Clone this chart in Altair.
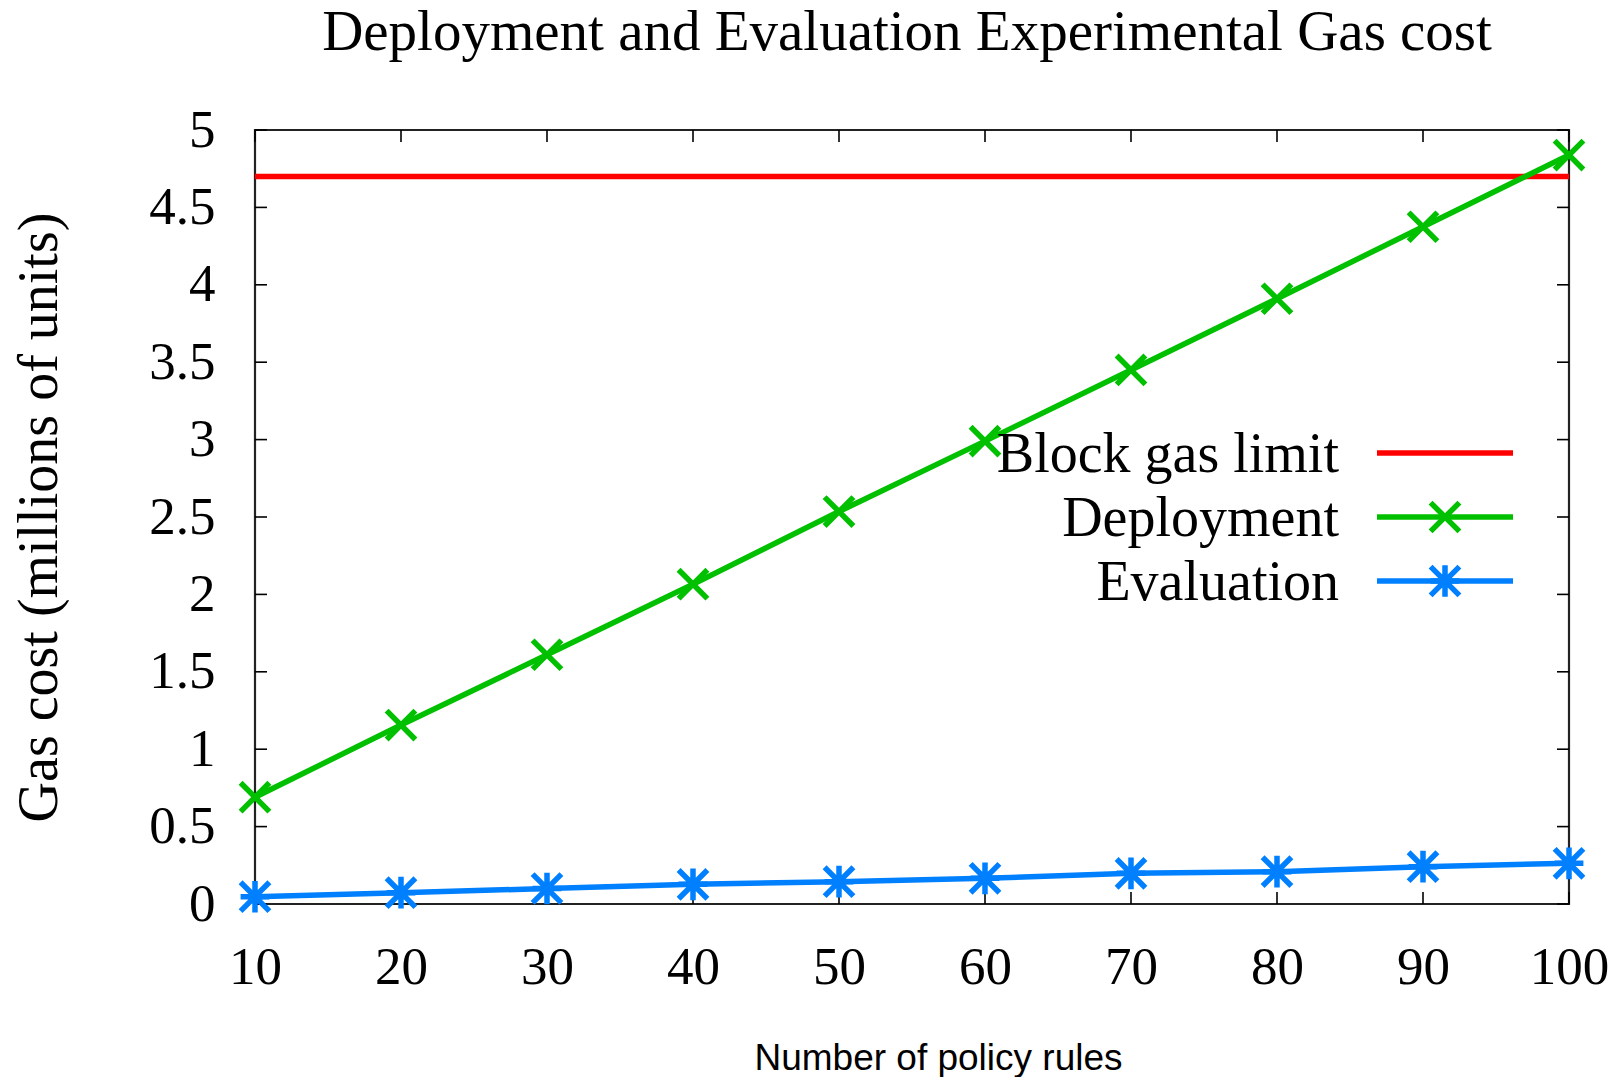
import altair as alt
import pandas as pd

# ---- data ----
rules = [10, 20, 30, 40, 50, 60, 70, 80, 90, 100]
deployment = [0.69, 1.156, 1.61, 2.066, 2.535, 2.99, 3.45, 3.91, 4.375, 4.838]
evaluation = [0.047, 0.073, 0.10, 0.127, 0.144, 0.166, 0.198, 0.209, 0.241, 0.263]
block_gas_limit = 4.7

series_names = ["Block gas limit", "Deployment", "Evaluation"]
series_colors = ["#ff0000", "#00c000", "#0080ff"]

x_tick_values = [10, 20, 30, 40, 50, 60, 70, 80, 90, 100]
y_tick_values = [0, 0.5, 1, 1.5, 2, 2.5, 3, 3.5, 4, 4.5, 5]

title_text = "Deployment and Evaluation Experimental Gas cost"
x_title = "Number of policy rules"
y_title = "Gas cost (millions of units)"

# ---- styling ----
W, H = 1314, 774
SERIF = "Liberation Serif"
SANS = "Liberation Sans"
X_SHAPE = "M-1,-1L1,1M-1,1L1,-1"
STAR_SHAPE = "M-1,-1L1,1M-1,1L1,-1M0,-1.1L0,1.1M-1,0L1,0"
shapes = {"Deployment": X_SHAPE, "Evaluation": STAR_SHAPE}
LW = 5.5
MSIZE = 830

df = pd.DataFrame({
    "rules": rules * 2,
    "cost": deployment + evaluation,
    "series": ["Deployment"] * len(rules) + ["Evaluation"] * len(rules),
})

xscale = alt.Scale(domain=[10, 100], nice=False, zero=False)
yscale = alt.Scale(domain=[0, 5], nice=False, zero=True)

xaxis = alt.Axis(
    values=x_tick_values, title=x_title, grid=False, domain=False, ticks=False,
    tickSize=0, labelPadding=37, labelFlush=False, labelOverlap=False, format="d",
    labelFont=SERIF, labelFontSize=53, labelColor="black",
    titleFont=SANS, titleFontSize=37, titleFontWeight="normal", titleColor="black",
    titleX=683, titleY=165, titleAlign="center", titleBaseline="alphabetic",
)
yaxis = alt.Axis(
    values=y_tick_values, title=y_title, grid=False, domain=False, ticks=False,
    tickSize=0, labelPadding=40, labelFlush=False, labelOverlap=False, format="~g",
    labelFont=SERIF, labelFontSize=53, labelColor="black",
    titleFont=SERIF, titleFontSize=56, titleFontWeight="normal", titleColor="black",
    titleAngle=270, titleX=-216, titleY=387, titleAlign="center", titleBaseline="middle",
)

X = alt.X("rules:Q", scale=xscale, axis=xaxis)
Y = alt.Y("cost:Q", scale=yscale, axis=yaxis)
color = alt.Color("series:N", scale=alt.Scale(domain=series_names, range=series_colors), legend=None)

layers = []

# inward ticks (gnuplot style, on all four sides)
xt = pd.DataFrame({"rules": x_tick_values})
yt = pd.DataFrame({"cost": y_tick_values})
tick_style = dict(color="black", thickness=1.6, size=12, opacity=1)
layers.append(alt.Chart(xt).mark_tick(**tick_style).encode(x=X, y=alt.value(H - 6)))
layers.append(alt.Chart(xt).mark_tick(**tick_style).encode(x=X, y=alt.value(6)))
layers.append(alt.Chart(yt).mark_tick(**tick_style).encode(y=Y, x=alt.value(6)))
layers.append(alt.Chart(yt).mark_tick(**tick_style).encode(y=Y, x=alt.value(W - 6)))

# block gas limit
limit_df = pd.DataFrame({"cost": [block_gas_limit], "series": ["Block gas limit"]})
layers.append(alt.Chart(limit_df).mark_rule(strokeWidth=LW).encode(y=Y, color=color))

# series lines and markers
for name in ["Deployment", "Evaluation"]:
    sub = df[df["series"] == name]
    layers.append(alt.Chart(sub).mark_line(strokeWidth=LW).encode(x=X, y=Y, color=color))
    layers.append(
        alt.Chart(sub).mark_point(shape=shapes[name], filled=False, size=MSIZE, strokeWidth=LW, opacity=1)
        .encode(x=X, y=Y, color=color)
    )

# manual legend (labels left of the samples, like gnuplot)
legend_rows_y = [323, 387, 451]
for i, name in enumerate(series_names):
    ly = legend_rows_y[i]
    ldf = pd.DataFrame({"series": [name]})
    layers.append(
        alt.Chart(ldf).mark_text(font=SERIF, fontSize=56, align="right", baseline="middle", color="black", dy=2)
        .encode(x=alt.value(1084), y=alt.value(ly), text="series:N")
    )
    layers.append(
        alt.Chart(ldf).mark_rule(strokeWidth=LW, color=series_colors[i])
        .encode(x=alt.value(1122), x2=alt.value(1258), y=alt.value(ly))
    )
    if name in shapes:
        layers.append(
            alt.Chart(ldf).mark_point(shape=shapes[name], filled=False, size=MSIZE, strokeWidth=LW,
                                      opacity=1, color=series_colors[i])
            .encode(x=alt.value(1190), y=alt.value(ly))
        )

# chart title, placed above the plot frame
tdf = pd.DataFrame({"title": [title_text]})
layers.append(
    alt.Chart(tdf).mark_text(font=SERIF, fontSize=57, align="center", baseline="alphabetic", color="black")
    .encode(x=alt.value(652), y=alt.value(-80), text="title:N")
)

chart = alt.layer(*layers).properties(
    width=W, height=H,
    background="white",
    autosize=alt.AutoSizeParams(type="none"),
    padding={"left": 247, "top": 122, "right": 44, "bottom": 173},
).configure_view(stroke="#222222", strokeWidth=2.2)

chart.save("out.html", embed_options={"renderer": "svg", "actions": False})
